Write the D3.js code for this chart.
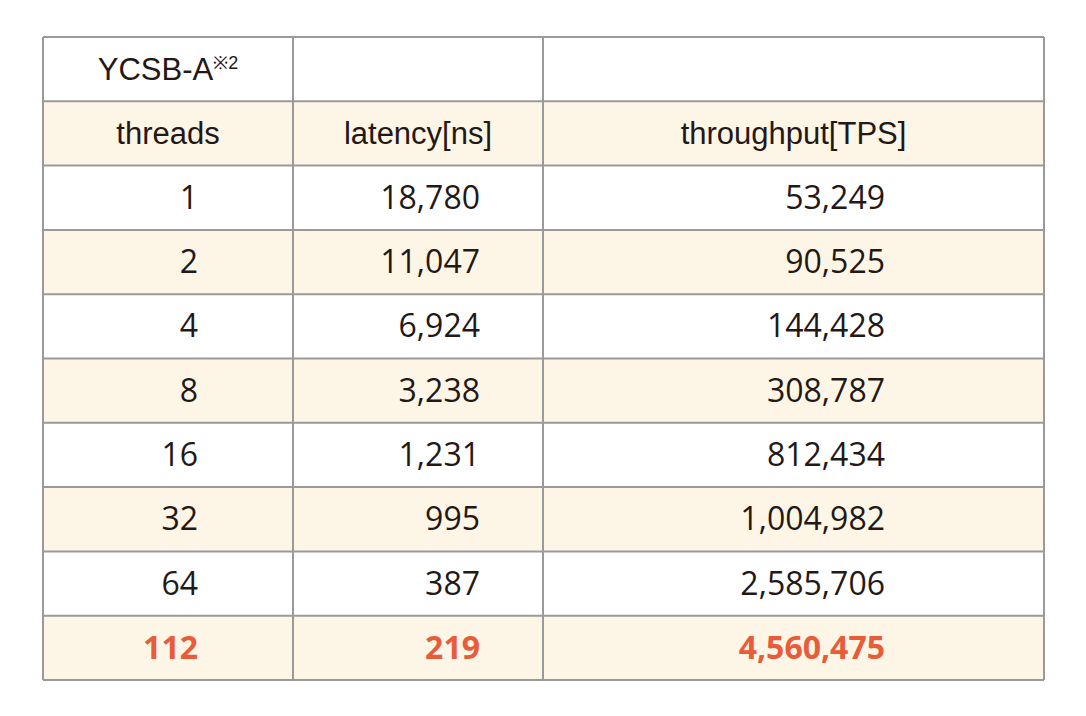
<!DOCTYPE html>
<html><head><meta charset="utf-8">
<script src="https://cdn.jsdelivr.net/npm/d3@7"></script>
<style>body{margin:0;background:#fff}</style>
</head><body><div id="chart"></div>
<script>
var title = "YCSB-A";
var headers = ["threads", "latency[ns]", "throughput[TPS]"];
var threads = [1, 2, 4, 8, 16, 32, 64, 112];
var latency = [18780, 11047, 6924, 3238, 1231, 995, 387, 219];
var throughput = [53249, 90525, 144428, 308787, 812434, 1004982, 2585706, 4560475];

var W = 1086, H = 716;
var colEdges = [43, 293, 543, 1044];
var numRight = [198, 480, 885];
var tableTop = 37, tableBottom = 680, nRows = 10;
var y = d3.scaleLinear().domain([0, nRows]).range([tableTop, tableBottom]);
var fmt = d3.format(",");
var cream = "#fdf5e6", border = "#9a9a9a", orange = "#e85c3a";

var svg = d3.select("#chart").append("svg").attr("width", W).attr("height", H);

// row backgrounds
svg.selectAll("rect.row").data(d3.range(nRows)).enter().append("rect")
  .attr("x", colEdges[0]).attr("y", function(i){ return y(i); })
  .attr("width", colEdges[3] - colEdges[0]).attr("height", y(1) - y(0))
  .style("fill", function(i){ return i % 2 ? cream : "#fff"; });

// grid lines
svg.selectAll("line.h").data(d3.range(nRows + 1)).enter().append("line")
  .attr("x1", colEdges[0]).attr("x2", colEdges[3])
  .attr("y1", function(i){ return y(i); }).attr("y2", function(i){ return y(i); })
  .style("stroke", border).style("stroke-width", 2);
svg.selectAll("line.v").data(colEdges).enter().append("line")
  .attr("x1", function(d){ return d; }).attr("x2", function(d){ return d; })
  .attr("y1", tableTop).attr("y2", tableBottom)
  .style("stroke", border).style("stroke-width", 2);

var mid = function(i){ return (y(i) + y(i + 1)) / 2; };

// title with superscript
var t = svg.append("text").attr("x", 168).attr("y", mid(0) + 11)
  .attr("text-anchor", "middle")
  .style("font-family", "Liberation Sans, Arial, sans-serif").style("font-size", "31px").style("fill", "#231815");
t.append("tspan").text(title);
t.append("tspan").attr("dy", -11).style("font-size", "18px").text("※2");

// headers
svg.selectAll("text.hd").data(headers).enter().append("text")
  .attr("x", function(d, i){ return (colEdges[i] + colEdges[i + 1]) / 2; })
  .attr("y", mid(1) + 11).attr("text-anchor", "middle")
  .style("font-family", "Liberation Sans, Arial, sans-serif").style("font-size", "31px").style("fill", "#231815")
  .text(function(d){ return d; });

// data rows
var rows = threads.map(function(d, i){ return [d, latency[i], throughput[i]]; });
rows.forEach(function(r, ri){
  var last = ri === rows.length - 1;
  svg.selectAll("text.r" + ri).data(r).enter().append("text")
    .attr("x", function(d, ci){ return numRight[ci]; })
    .attr("y", mid(ri + 2) + 11).attr("text-anchor", "end")
    .style("font-family", "Open Sans, Noto Sans, sans-serif").style("font-size", "32px")
    .style("font-weight", last ? "bold" : "normal")
    .style("fill", last ? orange : "#231815")
    .text(function(d){ return fmt(d); });
});
</script></body></html>
